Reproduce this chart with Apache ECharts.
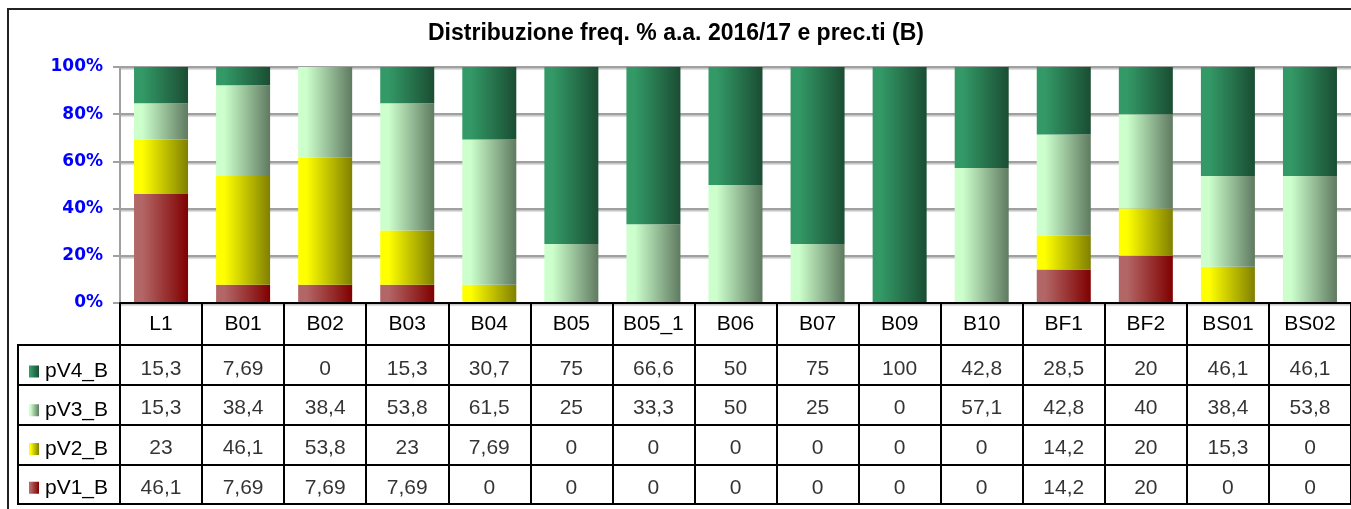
<!DOCTYPE html>
<html>
<head>
<meta charset="utf-8">
<script src="https://cdn.jsdelivr.net/npm/echarts@6/dist/echarts.min.js"></script>
<style>
html,body{margin:0;padding:0;background:#fff;}
#c{width:1351px;height:509px;}
</style>
</head>
<body>
<div id="c"></div>
<script>
var categories = ['L1','B01','B02','B03','B04','B05','B05_1','B06','B07','B09','B10','BF1','BF2','BS01','BS02'];
var pV4_B = [15.3,7.69,0,15.3,30.7,75,66.6,50,75,100,42.8,28.5,20,46.1,46.1];
var pV3_B = [15.3,38.4,38.4,53.8,61.5,25,33.3,50,25,0,57.1,42.8,40,38.4,53.8];
var pV2_B = [23,46.1,53.8,23,7.69,0,0,0,0,0,0,14.2,20,15.3,0];
var pV1_B = [46.1,7.69,7.69,7.69,0,0,0,0,0,0,0,14.2,20,0,0];
var seriesNames = ['pV1_B','pV2_B','pV3_B','pV4_B'];
var yTicks = [0,20,40,60,80,100];
var title = 'Distribuzione freq. % a.a. 2016/17 e prec.ti (B)';

var values = [pV1_B, pV2_B, pV3_B, pV4_B];
var gradColors = [
  ['#b36666', '#800000'],
  ['#ffff00', '#808000'],
  ['#ccffcc', '#5f7a60'],
  ['#339966', '#1a4d33']
];
function grad(c) {
  return new echarts.graphic.LinearGradient(0, 0, 1, 0, [
    {offset: 0, color: c[0]}, {offset: 0.15, color: c[0]}, {offset: 1, color: c[1]}
  ]);
}
var totals = categories.map(function (_, i) {
  return values.reduce(function (s, arr) { return s + arr[i]; }, 0);
});
function fmt(v) { return String(v).replace('.', ','); }

var FONT = '"Liberation Sans", Arial, sans-serif';

var barSeries = values.map(function (arr, k) {
  return {
    name: seriesNames[k],
    type: 'bar',
    stack: 'all',
    xAxisIndex: 0,
    yAxisIndex: 0,
    barWidth: 54,
    itemStyle: {color: grad(gradColors[k])},
    data: arr.map(function (v, i) { return totals[i] ? v / totals[i] * 100 : 0; }),
    emphasis: {disabled: true}
  };
});

var cellData = [];
values.forEach(function (arr, k) {
  arr.forEach(function (v, i) { cellData.push([i, k, v]); });
});

var option = {
  animation: false,
  title: {
    text: title,
    left: 423,
    top: 17,
    textStyle: {fontFamily: FONT, fontWeight: 'bold', fontSize: 23, color: '#000'}
  },
  graphic: [{
    type: 'rect', silent: true, z: -10,
    shape: {x: 8, y: 9, width: 1400, height: 600},
    style: {fill: 'none', stroke: '#222', lineWidth: 2}
  }],
  legend: {
    data: ['pV4_B','pV3_B','pV2_B','pV1_B'],
    orient: 'vertical',
    left: 24,
    top: 356,
    itemWidth: 10,
    itemHeight: 12,
    itemGap: 17.75,
    icon: 'rect',
    selectedMode: false,
    formatter: '{t|{name}}',
    textStyle: {
      rich: {t: {fontFamily: FONT, fontSize: 21, color: '#000', lineHeight: 22, padding: [0, 0, 0, 1]}}
    }
  },
  grid: [
    {left: 120, right: 0, top: 67, height: 236},
    {left: 120, right: 0, top: 345, height: 159, show: true, borderColor: '#000', borderWidth: 2, backgroundColor: 'transparent'},
    {left: 18, width: 102, top: 345, height: 159, show: true, borderColor: '#000', borderWidth: 2, backgroundColor: 'transparent'}
  ],
  xAxis: [
    {
      type: 'category', gridIndex: 0, data: categories,
      axisLine: {lineStyle: {color: '#000', width: 2}},
      axisTick: {show: true, interval: 0, length: 42, lineStyle: {color: '#000', width: 2}},
      axisLabel: {interval: 0, margin: 11, color: '#000', fontSize: 21, fontFamily: FONT},
      splitLine: {show: false}, z: 5
    },
    {
      type: 'category', gridIndex: 1, data: categories,
      axisLine: {show: false}, axisTick: {show: false}, axisLabel: {show: false},
      splitLine: {show: true, interval: 0, lineStyle: {color: '#000', width: 2}}
    },
    {type: 'value', gridIndex: 2, show: false}
  ],
  yAxis: [
    {
      type: 'value', gridIndex: 0, min: yTicks[0], max: yTicks[yTicks.length - 1], interval: 20,
      axisLine: {show: true, lineStyle: {color: '#a0a0a0', width: 2}},
      axisTick: {show: true, length: 7, lineStyle: {color: '#a0a0a0', width: 2}},
      axisLabel: {formatter: '{value}%', color: '#0000ff', fontWeight: 'bold', fontSize: 17, fontFamily: '"DejaVu Sans", Verdana, sans-serif', margin: 17},
      splitLine: {show: true, lineStyle: {color: '#a0a0a0', width: 2, shadowColor: 'rgba(0,0,0,0.25)', shadowOffsetY: 1.5, shadowBlur: 1}}
    },
    {
      type: 'category', gridIndex: 1, data: seriesNames,
      axisLine: {show: false}, axisTick: {show: false}, axisLabel: {show: false},
      splitLine: {show: true, interval: 0, lineStyle: {color: '#000', width: 2}}
    },
    {
      type: 'category', gridIndex: 2, data: seriesNames,
      axisLine: {show: false}, axisTick: {show: false}, axisLabel: {show: false},
      splitLine: {show: true, interval: 0, lineStyle: {color: '#000', width: 2}}
    }
  ],
  series: barSeries.concat([{
    name: 'table',
    type: 'scatter',
    xAxisIndex: 1,
    yAxisIndex: 1,
    symbolSize: 1,
    silent: true,
    itemStyle: {color: 'rgba(0,0,0,0)'},
    label: {
      show: true, position: 'inside', offset: [0, 4],
      formatter: function (p) { return fmt(p.value[2]); },
      fontFamily: FONT, fontSize: 21, color: '#000'
    },
    emphasis: {disabled: true},
    data: cellData
  }])
};

var chart = echarts.init(document.getElementById('c'), null, {renderer: 'canvas'});
chart.setOption(option);
</script>
</body>
</html>
